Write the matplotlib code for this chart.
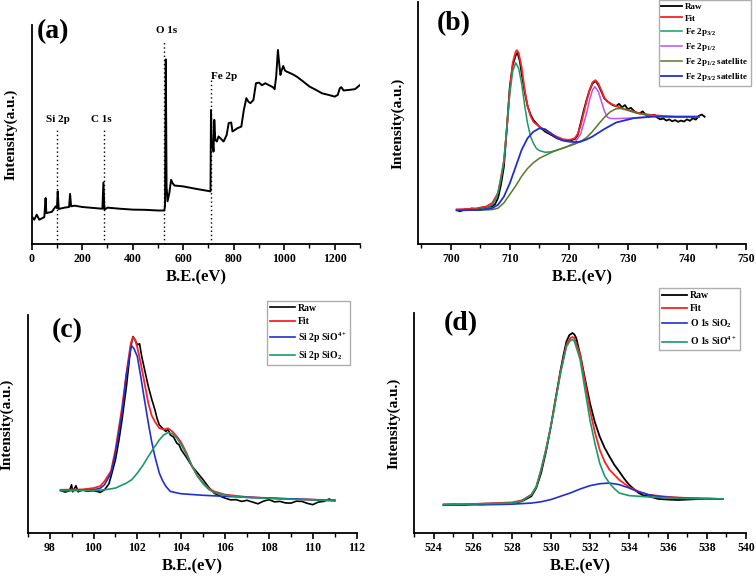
"""
XPS spectra: survey, Fe 2p, Si 2p and O 1s fits (four panels)
"""
import numpy as np
import matplotlib
matplotlib.use("Agg")
import matplotlib.pyplot as plt
from matplotlib.ticker import MultipleLocator

plt.rcParams['font.family'] = ['Liberation Serif', 'DejaVu Serif']
plt.rcParams['font.weight'] = 'bold'
plt.rcParams['mathtext.fontset'] = 'custom'
plt.rcParams['mathtext.rm'] = 'Liberation Serif:bold'
plt.rcParams['mathtext.it'] = 'Liberation Serif:bold'
plt.rcParams['mathtext.bf'] = 'Liberation Serif:bold'
plt.rcParams['mathtext.default'] = 'rm'

# ---- (a) survey spectrum ----
survey_be = [0, 10, 20, 30, 40, 50, 55, 58, 80, 95, 100, 103, 107, 130, 148, 152, 156,
             170, 200, 250, 280, 284, 288, 300, 350, 400, 450, 500, 525, 528, 531, 534,
             538, 545, 552, 558, 565, 600, 650, 700, 708, 710, 712, 714, 717, 720, 723,
             727, 733, 740, 760, 772, 780, 790, 795, 805, 815, 830, 840, 850, 858, 866,
             878, 888, 900, 912, 925, 940, 955, 962, 968, 975, 980, 985, 990, 996, 1003,
             1010, 1030, 1050, 1075, 1100, 1125, 1150, 1175, 1200, 1212, 1220, 1226,
             1235, 1260, 1280, 1300]
survey_int = [12.6, 11.1, 13.4, 11.1, 11.7, 12.3, 21.0, 14.1, 14.7, 17.2, 16.4, 24.0, 16.0,
              16.6, 16.9, 22.9, 17.2, 17.5, 16.9, 16.4, 16.1, 28.1, 15.7, 16.6, 16.1, 15.7,
              15.6, 15.3, 15.3, 17.5, 84.3, 26.3, 19.5, 23.3, 29.3, 27.8, 26.7, 26.3, 25.2,
              24.2, 24.0, 61.2, 50.6, 44.5, 46.0, 42.2, 56.7, 47.6, 46.8, 49.1, 46.8, 49.8,
              55.2, 55.5, 51.4, 52.1, 52.9, 53.6, 61.2, 66.6, 65.0, 64.3, 65.8, 73.4, 73.7,
              72.5, 73.4, 72.5, 71.6, 70.7, 76.4, 88.6, 82.5, 77.2, 79.4, 81.3, 79.2, 78.7,
              77.7, 76.4, 74.2, 71.9, 70.4, 68.8, 68.1, 67.3, 68.1, 71.1, 71.6, 70.1, 70.4,
              70.7, 72.6]
peak_names = ['Si 2p', 'C 1s', 'O 1s', 'Fe 2p']
peak_be = [102, 285, 525, 711]
peak_top = [52.1, 52.1, 92.4, 74.9]
label_be = [103, 274, 534, 761]
label_y = [57.0, 57.0, 97.4, 76.7]

# ---- (b) Fe 2p ----
fe_raw_be = [701, 701.5, 702, 702.5, 703, 703.5, 704, 704.5, 705, 705.5, 706, 706.5, 707,
             707.5, 708, 708.5, 709, 709.5, 710, 710.5, 711, 711.3, 711.7, 712, 712.5, 713,
             713.5, 714, 715, 716, 717, 718, 719, 720, 721, 721.5, 722, 722.5, 723, 723.5,
             724, 724.5, 725, 725.5, 726, 726.5, 727, 727.5, 728, 728.5, 729, 729.5, 730,
             730.5, 731, 731.5, 732, 732.5, 733, 733.5, 734, 734.5, 735, 735.5, 736, 736.5,
             737, 737.5, 738, 738.5, 739, 739.5, 740, 740.5, 741, 741.5, 742, 742.5, 743]
fe_raw = [14.1, 13.5, 13.9, 14.4, 14.2, 14.7, 14.6, 14.3, 14.8, 15.2, 15.0, 15.4, 15.5,
          16.5, 19.0, 24.5, 32.0, 48.0, 65.0, 74.0, 78.0, 79.0, 75.5, 70.5, 63.0, 57.0,
          53.5, 51.2, 48.5, 46.4, 45.1, 43.7, 43.0, 42.7, 43.3, 45.0, 49.9, 55.0, 59.5,
          63.5, 66.3, 67.4, 65.7, 63.0, 60.2, 59.0, 58.1, 57.3, 57.0, 57.9, 56.5, 57.4,
          55.6, 56.3, 55.0, 54.2, 54.0, 54.8, 53.5, 52.6, 52.9, 53.4, 52.2, 51.5, 51.9,
          51.0, 51.5, 50.7, 51.2, 50.5, 51.0, 50.6, 51.5, 50.9, 52.0, 51.4, 52.9, 53.5, 52.6]
fe_fit_be = [701, 704, 706, 707, 708, 709, 709.5, 710, 710.5, 711, 711.2, 711.5, 712, 712.5,
             713, 713.5, 714, 715, 716, 717, 718, 719, 720, 720.5, 721, 721.5, 722, 722.5,
             723, 723.5, 724, 724.5, 725, 725.5, 726, 726.5, 727, 728, 729, 730, 732, 734,
             736, 738, 740, 742]
fe_fit = [14.3, 14.6, 15.5, 16.9, 21.0, 34.0, 48.0, 64.0, 75.0, 79.5, 80.1, 79.0, 73.0, 64.0,
          57.0, 53.0, 50.5, 48.5, 47.1, 45.5, 44.3, 43.3, 43.0, 43.3, 43.7, 45.5, 49.0, 54.0,
          59.0, 63.5, 66.8, 67.7, 66.3, 63.5, 60.5, 59.0, 58.1, 57.0, 56.0, 55.4, 54.0, 53.3,
          52.9, 52.6, 52.6, 52.6]
fe32_be = [701, 705, 706, 707, 707.5, 708, 708.5, 709, 709.5, 710, 710.5, 711, 711.5, 712,
           712.5, 713, 713.5, 714, 714.5, 715, 716, 717, 718, 720, 722]
fe32 = [14.1, 14.3, 14.8, 16.2, 18.0, 21.5, 27.0, 35.0, 48.0, 62.2, 71.5, 74.9, 72.5, 66.3,
        57.5, 49.9, 44.5, 41.6, 39.5, 38.6, 37.9, 38.1, 38.8, 40.5, 42.4]
fe12_be = [720, 721, 722, 723, 723.5, 724, 724.4, 725, 725.5, 726, 726.5, 727, 728, 730, 733]
fe12 = [40.6, 41.8, 45.5, 54.0, 59.5, 63.6, 65.0, 63.0, 59.0, 55.0, 52.5, 51.9, 51.8, 52.0,
        52.4]
fe12_sat_be = [701, 705, 707, 708, 709, 710, 711, 712, 713, 714, 715, 716, 717, 718, 719,
               720, 721, 722, 723, 724, 725, 726, 727, 728, 729, 730, 731, 732, 734, 736,
               738, 742]
fe12_sat = [13.9, 14.0, 14.2, 14.8, 17.0, 20.5, 24.0, 28.0, 31.2, 33.6, 35.4, 36.6, 37.8,
            38.8, 39.6, 40.5, 41.3, 42.4, 44.0, 46.5, 49.5, 52.3, 54.6, 55.9, 56.0, 55.2,
            54.4, 53.8, 53.0, 52.7, 52.6, 52.6]
fe32_sat_be = [701, 705, 707, 708, 709, 710, 711, 712, 713, 714, 715, 716, 717, 718, 719,
               720, 721, 722, 723, 724, 726, 728, 731, 734, 738, 742]
fe32_sat = [13.9, 14.1, 14.8, 16.2, 19.6, 25.1, 32.0, 38.9, 43.7, 46.4, 47.8, 47.4, 45.7,
            43.7, 42.7, 42.3, 42.1, 42.3, 43.2, 44.4, 47.5, 50.2, 52.0, 52.6, 52.6, 52.6]

# ---- (c) Si 2p ----
si_raw_be = [98.5, 98.7, 98.9, 99.0, 99.05, 99.2, 99.3, 99.5, 99.7, 100.0, 100.2, 100.3,
             100.5, 100.7, 100.8, 101.0, 101.15, 101.3, 101.5, 101.7, 101.8, 101.9, 102.0,
             102.1, 102.2, 102.35, 102.5, 102.65, 102.8, 102.9, 103.0, 103.15, 103.3, 103.4,
             103.5, 103.65, 103.8, 103.9, 104.0, 104.25, 104.5, 104.75, 105.0, 105.25, 105.5,
             105.75, 106.0, 106.25, 106.5, 106.75, 107.0, 107.25, 107.5, 107.75, 108.0,
             108.25, 108.5, 108.75, 109.0, 109.25, 109.5, 109.75, 110.0, 110.25, 110.5,
             110.75, 110.85, 111.0]
si_raw = [19.5, 18.8, 19.3, 22.1, 18.9, 21.7, 18.9, 19.8, 19.2, 19.4, 19.0, 18.6, 19.8, 22.5,
          26.0, 33.6, 42.0, 51.9, 67.2, 85.5, 90.1, 88.5, 86.3, 86.8, 80.9, 74.0, 67.2, 61.5,
          56.5, 52.5, 49.6, 48.0, 46.6, 47.5, 45.0, 44.0, 41.2, 40.5, 38.2, 34.5, 30.5, 27.5,
          24.4, 21.0, 18.3, 17.0, 16.0, 15.2, 15.3, 14.5, 15.0, 14.2, 13.4, 14.6, 15.3, 14.3,
          14.5, 13.8, 13.7, 14.6, 14.5, 13.6, 13.0, 14.2, 14.5, 15.6, 15.0, 15.0]
si_fit_be = [98.5, 99.5, 100.0, 100.3, 100.5, 100.8, 101.0, 101.3, 101.5, 101.7, 101.8,
             101.9, 102.0, 102.15, 102.3, 102.5, 102.65, 102.8, 103.0, 103.2, 103.4, 103.6,
             103.8, 104.0, 104.25, 104.5, 104.75, 105.0, 105.25, 105.5, 106.0, 107.0, 108.0,
             109.0, 110.0, 111.0]
si_fit = [19.8, 20.0, 20.6, 21.5, 23.7, 28.5, 38.2, 57.5, 73.3, 87.0, 89.8, 88.5, 85.0, 78.0,
          70.2, 59.5, 54.0, 51.1, 48.1, 47.5, 48.0, 46.5, 44.3, 41.5, 36.5, 30.5, 26.0, 22.9,
          20.5, 19.1, 17.6, 16.5, 16.0, 15.6, 15.3, 15.0]
si4_be = [98.5, 99.5, 100.0, 100.3, 100.5, 100.8, 101.0, 101.3, 101.5, 101.7, 101.75, 101.85,
          102.0, 102.15, 102.3, 102.5, 102.65, 102.8, 103.0, 103.15, 103.3, 103.5, 103.75,
          104.0, 105.0, 106.0, 108.0, 110.0, 111.0]
si4 = [19.5, 19.6, 19.8, 20.5, 22.1, 27.5, 36.6, 55.0, 72.5, 84.7, 85.8, 84.5, 80.9, 72.0,
       62.6, 50.4, 42.0, 35.1, 27.5, 24.0, 21.4, 19.1, 18.5, 18.0, 17.3, 16.8, 16.0, 15.3, 14.8]
sio2_be = [98.5, 100.0, 100.5, 101.0, 101.5, 101.75, 102.0, 102.25, 102.5, 102.75, 103.0,
           103.2, 103.4, 103.6, 103.8, 104.0, 104.25, 104.5, 104.75, 105.0, 105.25, 105.5,
           106.0, 107.0, 108.0, 109.0, 110.0, 111.0]
sio2 = [19.5, 19.5, 19.8, 20.6, 22.9, 24.5, 27.5, 31.0, 35.1, 39.0, 42.7, 45.0, 46.1, 45.5,
        43.5, 40.5, 35.8, 30.5, 26.0, 22.5, 20.0, 18.6, 17.3, 16.3, 15.9, 15.5, 15.2, 14.8]

# ---- (d) O 1s ----
o_raw_be = [524.5, 525, 525.5, 526, 526.5, 527, 527.5, 528, 528.5, 529, 529.25, 529.5,
            529.75, 530, 530.25, 530.5, 530.65, 530.8, 530.95, 531.1, 531.2, 531.3, 531.5,
            531.75, 532.0, 532.25, 532.5, 532.75, 533.0, 533.25, 533.5, 533.75, 534.0,
            534.25, 534.5, 534.75, 535, 535.5, 536, 536.5, 537, 537.5, 538, 538.5, 538.8]
o_raw = [12.9, 13.0, 12.8, 13.2, 13.0, 13.3, 13.1, 13.6, 14.4, 16.7, 20.5, 27.3, 37.0, 48.5,
         61.5, 74.2, 81.0, 87.1, 90.0, 90.9, 90.3, 88.6, 81.1, 70.0, 59.1, 50.5, 43.9, 38.8,
         34.8, 31.0, 28.0, 24.8, 22.0, 20.0, 18.2, 17.0, 16.7, 15.5, 15.2, 15.0, 15.2, 15.4,
         15.6, 15.5, 15.5]
o_fit_be = [524.5, 526, 528, 528.5, 529, 529.25, 529.5, 529.75, 530, 530.25, 530.5, 530.8,
            531.0, 531.1, 531.2, 531.5, 531.75, 532.0, 532.25, 532.5, 532.75, 533.0, 533.5,
            534.0, 534.5, 535.0, 536.0, 537.0, 538.0, 538.8]
o_fit = [12.9, 13.2, 13.9, 14.8, 17.4, 21.0, 28.8, 38.0, 48.5, 61.0, 73.5, 85.6, 88.6, 89.1,
         88.6, 81.1, 68.5, 56.1, 46.0, 37.9, 32.5, 28.8, 24.2, 20.9, 18.9, 17.4, 16.4, 15.9,
         15.6, 15.5]
o_sio4_be = [524.5, 526, 528, 528.5, 529, 529.25, 529.5, 529.75, 530, 530.25, 530.5, 530.8,
             531.0, 531.1, 531.2, 531.5, 531.75, 532.0, 532.25, 532.5, 532.75, 533.0, 533.25,
             533.5, 534.0, 535.0, 536.0, 537.0, 538.0, 538.8]
o_sio4 = [12.9, 13.2, 13.6, 14.5, 17.4, 21.0, 28.8, 38.0, 48.5, 60.5, 73.0, 84.8, 87.5, 87.9,
          87.3, 78.8, 65.0, 51.5, 41.0, 31.8, 26.0, 22.7, 20.2, 18.2, 17.0, 16.4, 15.9, 15.7,
          15.6, 15.5]
o_sio2_be = [524.5, 526, 527, 528, 529, 529.5, 530, 530.5, 531, 531.5, 532, 532.5, 533,
             533.5, 534, 534.5, 535, 535.5, 536, 537, 538, 538.8]
o_sio2 = [12.6, 12.8, 12.9, 13.1, 13.6, 14.2, 15.2, 16.7, 18.2, 20.0, 21.5, 22.4, 22.7, 22.0,
          20.5, 18.6, 17.4, 16.6, 16.2, 15.8, 15.6, 15.5]

RED = '#ff2020'
GREEN = '#1a9a6a'
BLUE = '#2030d0'
PURPLE = '#c050f0'
OLIVE = '#5a7a2a'

W, H = 756, 578
fig = plt.figure(figsize=(W / 100, H / 100), dpi=100)


def px_axes(left, top, right, bottom):
    return fig.add_axes([left / W, 1 - bottom / H, (right - left) / W, (bottom - top) / H])


def style_axes(ax, xlim, major, minor, tag, tag_x, tag_y):
    ax.set_xlim(*xlim)
    ax.set_ylim(0, 100)
    for s in ['top', 'right']:
        ax.spines[s].set_visible(False)
    for s in ['left', 'bottom']:
        ax.spines[s].set_linewidth(1.3)
    ax.set_yticks([])
    ax.xaxis.set_major_locator(MultipleLocator(major))
    ax.xaxis.set_minor_locator(MultipleLocator(minor))
    ax.tick_params(axis='x', which='major', direction='out', length=4.5, width=1.2,
                   labelsize=8.5, pad=2)
    ax.tick_params(axis='x', which='minor', direction='out', length=3, width=1.0)
    for lab in ax.get_xticklabels():
        lab.set_fontweight('bold')
    ax.set_xlabel('B.E.(eV)', fontsize=12, fontweight='bold', labelpad=3)
    ax.set_ylabel('Intensity(a.u.)', fontsize=11, fontweight='bold', labelpad=10)
    ax.text(tag_x, tag_y, tag, fontsize=20, fontweight='bold', ha='center', va='center',
            clip_on=False)


# (a)
ax = px_axes(31.7, 25, 360, 244)
ax.plot(survey_be, survey_int, color='black', lw=1.4)
for name, be, top, lx, ly in zip(peak_names, peak_be, peak_top, label_be, label_y):
    ax.plot([be, be], [0, top], color='black', lw=1.0, ls=(0, (1, 2)))
    ax.text(lx, ly, name, fontsize=8, fontweight='bold', ha='center', va='center')
style_axes(ax, (0, 1300), 200, 100, '(a)', 86, 97)

# (b)
ax = px_axes(418.3, 2, 746, 244)
ax.plot(fe_raw_be, fe_raw, color='black', lw=1.3, label='Raw')
ax.plot(fe_fit_be, fe_fit, color=RED, lw=1.3, label='Fit')
ax.plot(fe32_be, fe32, color=GREEN, lw=1.1, label='Fe 2p$_{3/2}$')
ax.plot(fe12_be, fe12, color=PURPLE, lw=1.1, label='Fe 2p$_{1/2}$')
ax.plot(fe12_sat_be, fe12_sat, color=OLIVE, lw=1.1, label='Fe 2p$_{1/2}$ satellite')
ax.plot(fe32_sat_be, fe32_sat, color=BLUE, lw=1.3, label='Fe 2p$_{3/2}$ satellite')
style_axes(ax, (694.5, 750), 10, 5, '(b)', 700.5, 91)
ax.legend(loc='upper right', bbox_to_anchor=(750.5 / W, 1.0), bbox_transform=fig.transFigure,
          fontsize=6.5, frameon=True, fancybox=False, edgecolor='#9a9a9a', handlelength=2.3,
          handletextpad=0.3, labelspacing=0.35, borderpad=0.3, borderaxespad=0)

# (c)
ax = px_axes(27.7, 315, 356.7, 533)
ax.plot(si_raw_be, si_raw, color='black', lw=1.2, label='Raw')
ax.plot(si_fit_be, si_fit, color=RED, lw=1.3, label='Fit')
ax.plot(si4_be, si4, color=BLUE, lw=1.2, label='Si 2p SiO$^{4+}$')
ax.plot(sio2_be, sio2, color=GREEN, lw=1.2, label='Si 2p SiO$_2$')
style_axes(ax, (97, 112), 2, 1, '(c)', 98.8, 93)
ax.legend(loc='upper left', bbox_to_anchor=(266.7 / W, 1 - 300.7 / H),
          bbox_transform=fig.transFigure, fontsize=7, frameon=True, fancybox=False,
          edgecolor='#9a9a9a', handlelength=2.6, handletextpad=0.3, labelspacing=0.45,
          borderpad=0.3, borderaxespad=0)

# (d)
ax = px_axes(414.3, 313, 746, 533)
ax.plot(o_raw_be, o_raw, color='black', lw=1.3, label='Raw')
ax.plot(o_fit_be, o_fit, color=RED, lw=1.3, label='Fit')
ax.plot(o_sio2_be, o_sio2, color=BLUE, lw=1.2, label='O 1s SiO$_2$')
ax.plot(o_sio4_be, o_sio4, color=GREEN, lw=1.2, label='O 1s SiO$^{4+}$')
style_axes(ax, (523, 540), 2, 1, '(d)', 525.4, 95)
ax.legend(loc='upper left', bbox_to_anchor=(659 / W, 1 - 288 / H),
          bbox_transform=fig.transFigure, fontsize=7, frameon=True, fancybox=False,
          edgecolor='#9a9a9a', handlelength=2.6, handletextpad=0.3, labelspacing=0.45,
          borderpad=0.3, borderaxespad=0)

fig.savefig('out.png', dpi=100)
